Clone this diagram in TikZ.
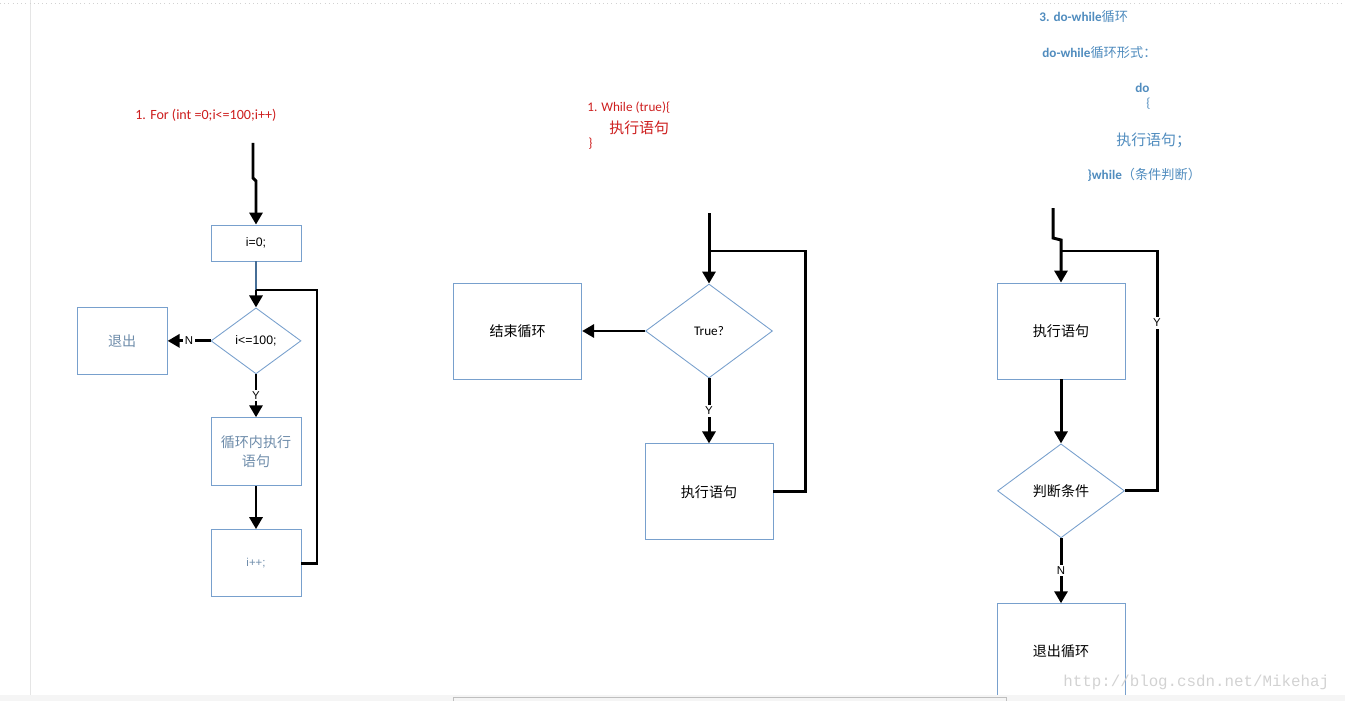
\documentclass[tikz,border=0pt]{standalone}
\usepackage{fontspec}
\usepackage{tikz}
\setmainfont{Carlito}
\newfontfamily\cjk{Noto Sans CJK SC}
\newfontfamily\arial{Liberation Sans}
\newfontfamily\wmfont{Liberation Mono}
\usetikzlibrary{arrows.meta, positioning, shapes.geometric, calc}
\definecolor{boxline}{RGB}{120, 160, 205}
\definecolor{redtext}{RGB}{205, 30, 30}
\definecolor{bluetext}{RGB}{80, 140, 190}
\definecolor{graytext}{RGB}{110, 140, 170}
\definecolor{initline}{RGB}{70, 110, 150}

\begin{document}
\begin{tikzpicture}[
    x=0.02cm, y=0.02cm,
    box/.style={rectangle, draw=boxline, line width=0.5pt, minimum width=2.56cm, minimum height=1.92cm, align=center, font=\cjk\fontsize{8}{11}\selectfont},
    smallbox/.style={box, minimum width=1.8cm, minimum height=1.34cm},
    cond/.style={diamond, draw=boxline, line width=0.5pt, inner sep=0pt, minimum width=2.54cm, minimum height=1.88cm, align=center, font=\cjk\fontsize{8}{10}\selectfont},
    smallcond/.style={cond, minimum width=1.8cm, minimum height=1.32cm},
    arr/.style={-{Triangle[length=2.4mm, width=2.6mm]}, line width=1.7pt},
    loopline/.style={line width=1.7pt},
    lbl/.style={fill=white, inner sep=1pt, font=\arial\fontsize{6.5}{7}\selectfont},
    note/.style={anchor=west, inner sep=0pt}
]
    \useasboundingbox (0,0) rectangle (1345,701);
    % page edges of the screenshot
    \draw[gray!20] (30,6) -- (30,701);
    \draw[gray!35, dotted] (0,698) -- (1345,698);

    % for loop
    \node[note, text=redtext, font=\fontsize{8}{9}\selectfont] (ftitle) at (135,586) {1. For (int =0;i<=100;i++)};
    \node[smallbox, minimum height=0.72cm, font=\arial\fontsize{7}{9}\selectfont] (finit) at (256,458) {i=0;};
    \node[smallcond, font=\arial\fontsize{7}{9}\selectfont, below=0.92cm of finit] (fcond) {i<=100;};
    \node[smallbox, text=graytext, minimum height=1.36cm, below=0.86cm of fcond] (fbody) {循环内执行\\语句};
    \node[smallbox, text=graytext, font=\arial\fontsize{6.5}{9}\selectfont, below=0.86cm of fbody] (finc) {i++;};
    \node[smallbox, text=graytext, left=0.86cm of fcond] (fexit) {退出};
    \coordinate (fstart) at (253,558);
    \coordinate (fjoin) at (256,411);

    \draw[arr] (fstart) -- (253,523) -- (256,520) -- (finit);
    \draw[initline, line width=1.7pt] (finit) -- (fjoin);
    \draw[arr] (fjoin) -- (fcond);
    \draw[arr] (fcond) -- node[lbl]{N} (fexit);
    \draw[arr] (fcond) -- node[lbl]{Y} (fbody);
    \draw[arr] (fbody) -- (finc);
    \draw[loopline] (finc.east) -| (317,411) -- (fjoin);

    % while loop
    \node[note, text=redtext, font=\fontsize{7.5}{9}\selectfont] (wtitle) at (587,593) {1. While (true)\{};
    \node[note, text=redtext, font=\cjk\fontsize{8.5}{10}\selectfont] (wstmt) at (609,573) {执行语句};
    \node[note, text=redtext, font=\fontsize{7.5}{9}\selectfont] (wclose) at (588,557) {\}};
    \node[cond, font=\fontsize{7.5}{9}\selectfont] (wcond) at (709,370) {True?};
    \node[box, left=1.26cm of wcond] (wexit) {结束循环};
    \node[box, below=1.3cm of wcond] (wbody) {执行语句};
    \coordinate (wstart) at (709,488);
    \coordinate (wjoin) at (709,450);

    \draw[arr] (wstart) -- (wcond);
    \draw[arr] (wcond) -- (wexit);
    \draw[arr] (wcond) -- node[lbl]{Y} (wbody);
    \draw[loopline] (wbody.east) -| (805,450) -- (wjoin);

    % do-while loop
    \node[note, text=bluetext, font=\bfseries\fontsize{7.5}{9}\selectfont] (dtitle) at (1039,684) {3. do-while{\cjk\mdseries 循环}};
    \node[note, text=bluetext, font=\bfseries\fontsize{7.5}{9}\selectfont] (dform) at (1042,648) {do-while{\cjk\mdseries 循环形式：}};
    \node[note, text=bluetext, font=\bfseries\fontsize{7.5}{9}\selectfont] (ddo) at (1135,613) {do};
    \node[note, text=bluetext, font=\fontsize{7.5}{9}\selectfont] (dopen) at (1146,597) {\{};
    \node[note, text=bluetext, font=\cjk\fontsize{8.5}{10}\selectfont] (dstmt) at (1116,561) {执行语句；};
    \node[note, text=bluetext, font=\bfseries\fontsize{7.5}{9}\selectfont] (dwhile) at (1087,526) {\}while{\cjk\mdseries （条件判断）}};
    \node[box] (dbody) at (1061,370) {执行语句};
    \node[cond, below=1.28cm of dbody] (dcond) {判断条件};
    \node[box, below=1.3cm of dcond] (dexit) {退出循环};
    \coordinate (dstart) at (1053,493);
    \coordinate (djoin) at (1061,450);

    \draw[arr] (dstart) -- (1053,463) -- (1061,461) -- (dbody);
    \draw[arr] (dbody) -- (dcond);
    \draw[arr] (dcond) -- node[lbl]{N} (dexit);
    \draw[loopline] (dcond.east) -| node[lbl, pos=0.85]{Y} (1157,450) -- (djoin);

    % bottom bar and watermark
    \fill[gray!8] (0,0) rectangle (1345,6);
    \draw[gray!50] (453,0) -- (453,4) -- (1006,4) -- (1006,0);
    \node[note, text=gray!35, font=\wmfont\fontsize{9}{10}\selectfont] (mark) at (1063,19) {http://blog.csdn.net/Mikehaj};
\end{tikzpicture}
\end{document}
